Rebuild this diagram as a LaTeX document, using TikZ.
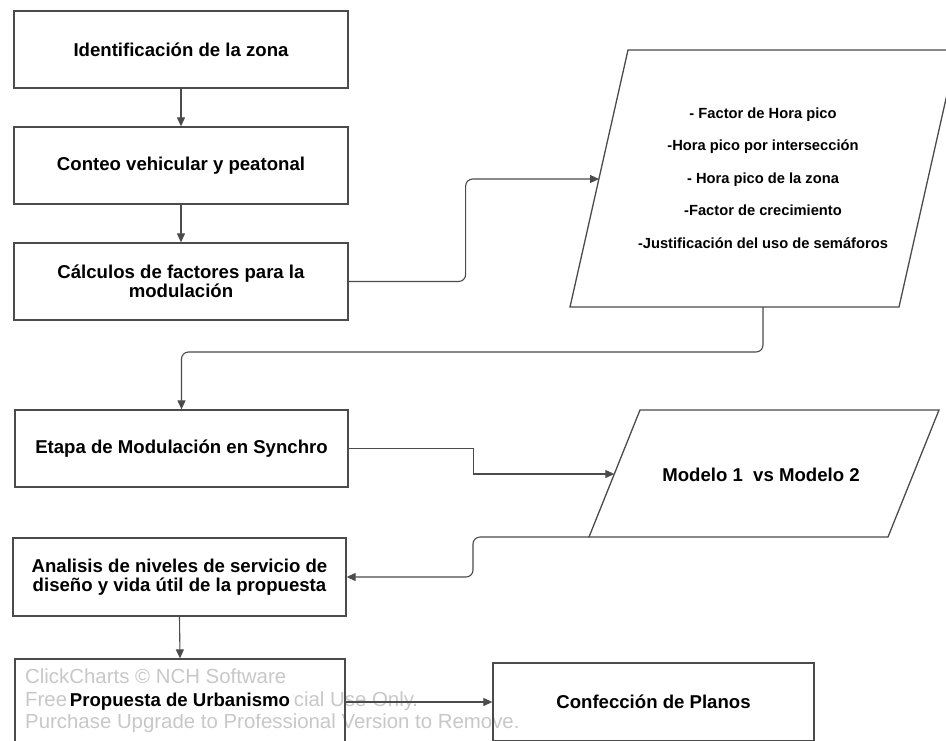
\documentclass[tikz,border=0pt]{standalone}
\usepackage{fontspec}
\setmainfont{Liberation Sans}
\usetikzlibrary{arrows.meta,calc}
\definecolor{edge}{RGB}{75,75,75}
\definecolor{wm}{RGB}{200,200,200}
\begin{document}
\begin{tikzpicture}[x=1pt,y=-1pt,
  box/.style={draw=edge, line width=1.3pt, minimum width=334pt, minimum height=77pt,
    inner sep=0pt, align=center, font=\bfseries\fontsize{18.6}{19.5}\selectfont},
  para/.style={draw=edge, line width=1.3pt, line join=miter},
  ptext/.style={align=center, inner sep=0pt, font=\bfseries\fontsize{14.7}{32.5}\selectfont},
  conn/.style={draw=edge, line width=1.1pt, -{Triangle[length=9pt,width=8pt]}},
  wmtext/.style={align=left, anchor=west, inner sep=0pt, text=wm, font=\fontsize{20.4}{22.5}\selectfont}
]
\useasboundingbox (0,0) rectangle (946,740);
\clip (0,0) rectangle (946,740);
\fill[white] (0,0) rectangle (946,740);

% boxes
\node[box] (b1) at (181,49.5) {Identificación de la zona};
\node[box] (b2) at (181,165.5) {Conteo vehicular y peatonal};
\node[box] (b3) at (181,281.5) {Cálculos de factores para la\\modulación};
\node[box, minimum width=333pt] (b4) at (181.5,448.5) {Etapa de Modulación en Synchro};
\node[box, minimum width=333pt, minimum height=78pt] (b5) at (179.5,577) {Analisis de niveles de servicio de\\diseño y vida útil de la propuesta};

% parallelograms
\draw[para] (570,307) -- (899,307) -- (957,50) -- (628,50) -- cycle;
\coordinate (p1w) at (599,179);
\coordinate (p1s) at (763,307);
\node[ptext] (p1) at (763,178) {- Factor de Hora pico\\-Hora pico por intersección\\- Hora pico de la zona\\-Factor de crecimiento\\-Justificación del uso de semáforos};

\draw[para] (589,537) -- (888,537) -- (939,410) -- (640,410) -- cycle;
\coordinate (p2w) at (614.3,474);
\coordinate (p2bl) at (589,537);
\node[box, draw=none, minimum width=0pt, minimum height=0pt] (p2) at (761,475) {Modelo 1\ \ vs Modelo 2};

% watermark
\node[wmtext] (wmk) at (25,701) {ClickCharts © NCH Software\\Free Version for Non-commercial Use Only.\\Purchase Upgrade to Professional Version to Remove.};

\node[box, minimum width=330pt, minimum height=86pt] (b6) at (180,702) {\colorbox{white}{Propuesta de Urbanismo}};
\node[box, minimum width=321pt, minimum height=78pt] (b7) at (653.5,702) {Confección de Planos};

% connectors
\draw[conn] (b1.south) -- (b2.north);
\draw[conn] (b2.south) -- (b3.north);
\draw[conn, rounded corners=7pt] (b3.east) -- ++(117,0) |- (p1w);
\draw[conn, rounded corners=7pt] (p1s) -- ++(0,45) -| (b4.north);
\draw[conn] (b4.east) -- ++(125,0) |- (p2w);
\draw[conn, rounded corners=7pt] (p2bl) -- ++(-116,0) |- (b5.east);
\draw[conn] (b5.south) -- (b6.north);
\draw[conn] (b6.east) -- (b7.west);
\end{tikzpicture}
\end{document}
